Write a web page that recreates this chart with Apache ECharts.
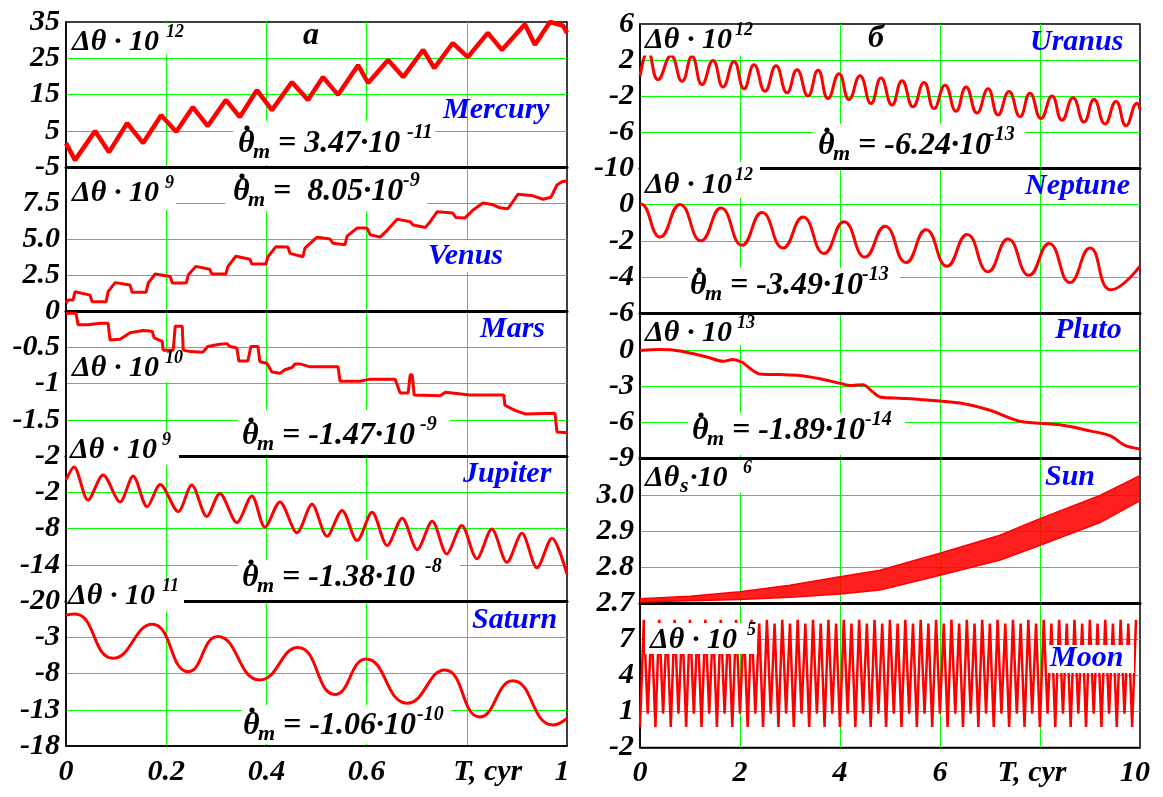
<!DOCTYPE html>
<html><head><meta charset="utf-8">
<script src="https://cdn.jsdelivr.net/npm/echarts@6/dist/echarts.min.js"></script>
<style>html,body{margin:0;padding:0;background:#fff}#c{width:1163px;height:797px}</style>
</head><body><div id="c"></div>
<script>
// ---------------- DATA ----------------
const leftXTicks = ['0','0.2','0.4','0.6','T, cyr','1'];
const rightXTicks = ['0','2','4','6','T, cyr','10'];

const mercuryTicks = ['-5','5','15','25','35'];
const venusTicks = ['0','2.5','5.0','7.5','10'];
const marsTicks = ['-2','-1.5','-1','-0.5','0'];
const jupiterTicks = ['-20','-14','-8','-2','4'];
const saturnTicks = ['-18','-13','-8','-3','2'];
const uranusTicks = ['-10','-6','-2','2','6'];
const neptuneTicks = ['-6','-4','-2','0','2'];
const plutoTicks = ['-9','-6','-3','0','3'];
const sunTicks = ['2.7','2.8','2.9','3.0','3.1'];
const moonTicks = ['-2','1','4','7','10'];

const mercury = [[0,1.6],[0.018,-3.1],[0.058,4.9],[0.086,-0.9],[0.122,7.1],[0.154,1.6],[0.190,9.3],[0.220,4.7],[0.253,11.5],[0.283,6.3],[0.319,13.5],[0.347,8.8],[0.381,16.2],[0.411,10.7],[0.451,18.4],[0.483,13.5],[0.513,19.8],[0.543,14.9],[0.583,23.1],[0.603,18.2],[0.643,24.5],[0.673,19.8],[0.713,27.3],[0.735,22.3],[0.772,29.2],[0.802,25.3],[0.842,32.0],[0.870,27.3],[0.916,34.4],[0.936,28.7],[0.966,35],[0.992,34],[1.0,32]];

const venus = [[0,0.55],[0.004,0.76],[0.014,0.76],[0.018,1.34],[0.048,1.1],[0.052,0.65],[0.080,0.65],[0.084,1.34],[0.098,1.97],[0.128,1.8],[0.132,1.3],[0.160,1.3],[0.164,1.94],[0.178,2.57],[0.208,2.4],[0.212,1.94],[0.240,1.94],[0.244,2.5],[0.259,3.1],[0.287,2.9],[0.291,2.57],[0.319,2.57],[0.323,3.08],[0.339,3.8],[0.367,3.6],[0.371,3.26],[0.399,3.26],[0.403,3.77],[0.419,4.47],[0.443,4.44],[0.447,4.0],[0.473,3.77],[0.477,4.37],[0.501,5.13],[0.527,5.0],[0.533,4.7],[0.557,4.6],[0.561,5.2],[0.581,5.76],[0.601,5.76],[0.607,5.3],[0.627,5.13],[0.641,5.6],[0.661,6.38],[0.687,6.2],[0.693,5.97],[0.717,5.8],[0.727,6.2],[0.741,6.9],[0.772,6.8],[0.778,6.5],[0.796,6.45],[0.812,7.0],[0.832,7.5],[0.850,7.4],[0.866,7.17],[0.882,7.1],[0.892,7.6],[0.902,8.1],[0.932,8.0],[0.952,7.76],[0.968,7.9],[0.980,8.75],[0.990,8.98],[1.0,9.05]];

const mars = [[0,-0.03],[0.020,-0.03],[0.024,-0.19],[0.044,-0.19],[0.068,-0.17],[0.084,-0.17],[0.088,-0.40],[0.108,-0.39],[0.128,-0.30],[0.154,-0.27],[0.172,-0.28],[0.176,-0.37],[0.192,-0.42],[0.194,-0.54],[0.214,-0.54],[0.218,-0.21],[0.232,-0.21],[0.234,-0.54],[0.248,-0.56],[0.273,-0.57],[0.283,-0.49],[0.307,-0.46],[0.321,-0.45],[0.327,-0.49],[0.341,-0.51],[0.345,-0.69],[0.363,-0.69],[0.369,-0.49],[0.383,-0.49],[0.387,-0.70],[0.401,-0.72],[0.411,-0.84],[0.427,-0.86],[0.437,-0.81],[0.451,-0.78],[0.457,-0.73],[0.467,-0.73],[0.487,-0.77],[0.543,-0.77],[0.547,-0.97],[0.587,-0.97],[0.607,-0.94],[0.657,-0.94],[0.667,-1.13],[0.683,-1.13],[0.687,-0.88],[0.691,-0.88],[0.695,-1.16],[0.747,-1.17],[0.757,-1.12],[0.806,-1.16],[0.874,-1.16],[0.876,-1.30],[0.896,-1.37],[0.916,-1.42],[0.976,-1.41],[0.980,-1.67],[1.0,-1.68]];

const jupiter = [[0,0.03],[0.016,2.2],[0.044,-3.3],[0.074,0.85],[0.108,-3.6],[0.134,0.7],[0.162,-4.4],[0.188,-0.7],[0.224,-5.2],[0.251,-0.8],[0.281,-6.0],[0.307,-2.2],[0.341,-7.0],[0.371,-2.6],[0.397,-7.8],[0.427,-3.6],[0.461,-8.7],[0.491,-4.0],[0.521,-9.3],[0.551,-5.0],[0.581,-10.0],[0.611,-5.3],[0.641,-10.8],[0.671,-6.3],[0.701,-11.5],[0.731,-6.8],[0.760,-12.2],[0.790,-7.5],[0.820,-13.0],[0.850,-8.1],[0.880,-13.6],[0.910,-8.8],[0.940,-14.5],[0.970,-9.6],[1.0,-15.6]];

const saturn = [[0,0.07],[0.018,0.2],[0.094,-5.9],[0.172,-1.2],[0.244,-7.75],[0.303,-2.9],[0.387,-8.9],[0.463,-4.4],[0.537,-10.9],[0.599,-6.0],[0.681,-12.1],[0.756,-7.5],[0.826,-14.0],[0.892,-9.0],[0.972,-15.1],[1.0,-14.2]];

const uranus = [[0,0.18],[0.16,2.94],[0.36,-0.18],[0.62,2.47],[0.84,-0.37],[1.04,2.4],[1.24,-0.73],[1.46,1.95],[1.66,-0.99],[1.88,1.84],[2.08,-1.2],[2.28,1.47],[2.5,-1.47],[2.72,1.36],[2.94,-1.65],[3.14,0.92],[3.36,-2.0],[3.56,0.85],[3.76,-2.28],[3.98,0.48],[4.18,-2.39],[4.4,0.26],[4.62,-2.83],[4.82,0.0],[5.04,-3.0],[5.24,-0.3],[5.46,-3.2],[5.68,-0.5],[5.88,-3.4],[6.1,-0.8],[6.32,-3.7],[6.52,-1.0],[6.74,-3.9],[6.96,-1.2],[7.16,-4.1],[7.38,-1.5],[7.6,-4.3],[7.8,-1.7],[8.02,-4.5],[8.24,-2.0],[8.44,-4.7],[8.66,-2.2],[8.88,-4.9],[9.08,-2.4],[9.3,-5.1],[9.52,-2.6],[9.72,-5.3],[9.94,-2.8],[10,-3.5]];

const neptune = [[0,0.0],[0.02,0.02],[0.4,-1.8],[0.8,0.0],[1.22,-2.0],[1.62,-0.2],[2.04,-2.25],[2.44,-0.45],[2.86,-2.4],[3.26,-0.7],[3.68,-2.7],[4.08,-0.95],[4.5,-2.9],[4.9,-1.2],[5.32,-3.2],[5.72,-1.4],[6.14,-3.4],[6.54,-1.65],[6.96,-3.7],[7.36,-1.9],[7.78,-3.9],[8.18,-2.15],[8.6,-4.3],[9.0,-2.4],[9.42,-4.7],[10,-3.4]];

const pluto = [[0,-0.06],[0.4,0.02],[0.8,-0.1],[1.34,-0.6],[1.66,-0.95],[1.86,-0.8],[2.04,-1.03],[2.4,-2.0],[2.8,-2.05],[3.2,-2.13],[3.6,-2.4],[4.0,-2.77],[4.24,-2.96],[4.46,-2.88],[4.66,-3.5],[4.8,-3.9],[5.2,-4.0],[5.6,-4.1],[6.4,-4.4],[7.0,-5.0],[7.6,-5.9],[8.4,-6.2],[9.0,-6.7],[9.4,-7.1],[9.7,-7.9],[10,-8.2]];

const sunT = [0,1,2,3,4,4.8,6,7.2,8,9.2,10];
const sunLow = [2.703,2.706,2.710,2.716,2.725,2.736,2.777,2.819,2.860,2.923,2.984];
const sunHigh = [2.712,2.719,2.731,2.749,2.773,2.791,2.838,2.888,2.934,2.998,3.053];

const moonHalfStep = 0.0769;
const moonTroughs = [-0.3,0.8,-0.3,0.8,-0.3,0.8,-0.3,0.8,-0.3,0.8,-0.3,0.8,-0.3,0.8,-0.3,0.8,-0.3,0.8,-0.3,0.8,-0.3,0.8,-0.3,0.8,-0.3,0.8,-0.3,0.8,-0.3,0.8,-0.3,0.8,-0.3,0.8,-0.3,0.8,-0.3,0.8,-0.3,0.8,-0.3,0.8,-0.3,0.8,-0.3,0.8,-0.3,0.8,-0.3,0.8,-0.3,0.8,-0.3,0.8,-0.3,0.8,-0.3,0.8,-0.3,0.8,-0.3,0.8,-0.3,0.8,-0.3];
const moonPeaks = [8.6,8.3,8.6,8.3,8.6,8.3,8.6,8.3,8.6,8.3,8.6,8.3,8.6,8.3,8.6,8.3,8.6,8.3,8.6,8.3,8.6,8.3,8.6,8.3,8.6,8.3,8.6,8.3,8.6,8.3,8.6,8.3,8.6,8.3,8.6,8.3,8.6,8.3,8.6,8.3,8.6,8.3,8.6,8.3,8.6,8.3,8.6,8.3,8.6,8.3,8.6,8.3,8.6,8.3,8.6,8.3,8.6,8.3,8.6,8.3,8.6,8.3,8.6,8.3,8.6];

// ---------------- BUILD ----------------
const moon = [];
for (let i = 0; i < moonTroughs.length; i++) {
  moon.push([2 * i * moonHalfStep, moonTroughs[i]]);
  if (i < moonPeaks.length) moon.push([(2 * i + 1) * moonHalfStep, moonPeaks[i]]);
}

const FONT = 'Liberation Serif';
const panels = [
  {side:'L', top:22, h:145, min:-5, max:35, iv:10, ticks:mercuryTicks, showMax:true, data:mercury, w:4.5},
  {side:'L', top:167, h:144, min:0, max:10, iv:2.5, ticks:venusTicks, data:venus, w:3},
  {side:'L', top:311, h:145, min:-2, max:0, iv:0.5, ticks:marsTicks, data:mars, w:3},
  {side:'L', top:456, h:145, min:-20, max:4, iv:6, ticks:jupiterTicks, data:jupiter, w:3, smooth:0.3},
  {side:'L', top:601, h:145, min:-18, max:2, iv:5, ticks:saturnTicks, data:saturn, w:3, smooth:0.5, last:true},
  {side:'R', top:24, h:144, min:-10, max:6, iv:4, ticks:uranusTicks, showMax:true, data:uranus, w:3, smooth:0.5},
  {side:'R', top:168, h:145.5, min:-6, max:2, iv:2, ticks:neptuneTicks, data:neptune, w:3, smooth:0.5},
  {side:'R', top:313.5, h:145.2, min:-9, max:3, iv:3, ticks:plutoTicks, data:pluto, w:3, smooth:0.3},
  {side:'R', top:458.7, h:144.3, min:2.7, max:3.1, iv:0.1, ticks:sunTicks, sun:true},
  {side:'R', top:603, h:144.5, min:-2, max:10, iv:3, ticks:moonTicks, data:moon, w:2.5, last:true}
];

const grids = [], xAxes = [], yAxes = [], series = [];
const labFont = {fontFamily: FONT, fontStyle: 'italic', fontWeight: 'bold', fontSize: 30, color: '#000'};
panels.forEach((p, i) => {
  const L = p.side === 'L';
  grids.push({left: L ? 66 : 640, width: L ? 501 : 500, top: p.top, height: p.h,
    show: true, borderColor: '#000', borderWidth: 1.5, backgroundColor: 'transparent'});
  const xt = L ? leftXTicks : rightXTicks;
  const xmax = L ? 1 : 10, xiv = L ? 0.2 : 2;
  xAxes.push({gridIndex: i, type: 'value', min: 0, max: xmax, interval: xiv,
    axisLine: {show: true, onZero: false, lineStyle: {color: '#000', width: p.last ? 1.5 : 3}},
    axisTick: {show: false},
    splitLine: {show: true, showMinLine: false, showMaxLine: false, lineStyle: {color: '#00ff00', width: 1}},
    axisLabel: Object.assign({show: !!p.last, margin: 11,
      formatter: v => {
        const k = Math.round(v / xiv), s = xt[k];
        if (k === 4) return (L ? '{tl|' : '{tr|') + s + '}';
        if (k === 5) return '{e|' + s + '}';
        return s;
      },
      rich: {
        tl: Object.assign({padding: [0, 0, 0, 42]}, labFont),
        tr: Object.assign({padding: [0, 16, 0, 0]}, labFont),
        e: Object.assign({padding: [0, 10, 0, 0]}, labFont)
      }}, labFont)
  });
  yAxes.push({gridIndex: i, type: 'value', min: p.min, max: p.max, interval: p.iv,
    axisLine: {show: true, lineStyle: {color: '#000', width: 1.5}},
    axisTick: {show: false},
    splitLine: {show: true, showMinLine: false, showMaxLine: false, lineStyle: {color: '#00ff00', width: 1}},
    axisLabel: Object.assign({show: true, showMaxLabel: !!p.showMax, showMinLabel: true, margin: 6,
      formatter: v => p.ticks[Math.round((v - p.min) / p.iv)]}, labFont)
  });
  if (p.sun) {
    series.push({type: 'custom', xAxisIndex: i, yAxisIndex: i, silent: true, clip: true,
      data: sunT.map((t, k) => [t, sunLow[k], sunHigh[k]]),
      encode: {x: 0, y: [1, 2]},
      renderItem: (params, api) => {
        if (params.dataIndex !== 0) return null;
        const up = sunT.map((t, k) => api.coord([t, sunHigh[k]]));
        const lo = sunT.map((t, k) => api.coord([t, sunLow[k]])).reverse();
        return {type: 'polygon', shape: {points: up.concat(lo)},
          style: {fill: 'rgba(255,0,0,0.88)', stroke: '#ff0000', lineWidth: 1.5}};
      }});
  } else {
    series.push({type: 'line', xAxisIndex: i, yAxisIndex: i, data: p.data, showSymbol: false,
      smooth: p.smooth || false, lineStyle: {color: '#ff0000', width: p.w}, silent: true, clip: true});
  }
});

// ---------------- LABELS ----------------
const BLUE = '#0000ff';
const F = s => `italic bold ${s}px "${FONT}"`;
const els = [];
function T(x, b, s, size, color) {
  els.push({type: 'text', z: 100, x: x, y: b - 0.34 * size,
    style: {text: s, font: F(size), fill: color || '#000', align: 'left', verticalAlign: 'middle'}});
}
function R(x, y, w, h) {
  els.push({type: 'rect', z: 99, shape: {x: x, y: y, width: w, height: h}, style: {fill: '#fff'}});
}
function dTheta(x, b, sup, supX) {
  T(x, b, 'Δθ · 10', 30); T(supX, b - 14, sup, 18);
}
function thetaM(x0, b, rest, sup, supX) {
  T(x0, b, 'θ', 32);
  els.push({type: 'circle', z: 101, shape: {cx: x0 + 9, cy: b - 27, r: 2.6}, style: {fill: '#000'}});
  T(x0 + 15, b + 5, 'm', 22);
  T(x0 + 40, b, rest, 32);
  T(supX, b - 15, sup, 20);
}
// Mercury
R(67, 23.5, 115, 31); dTheta(72, 52, '12', 166);
T(303, 47, 'а', 32);
T(443, 120, 'Mercury', 30, BLUE);
R(233, 121, 202, 44); thetaM(238, 155, '= 3.47·10', '-11', 407);
// Venus
R(67, 169, 109, 41); dTheta(72, 203, '9', 165);
R(225, 169, 202, 42); thetaM(233, 203, '=  8.05·10', '-9', 403);
R(427, 240, 80, 32); T(428, 266, 'Venus', 30, BLUE);
// Mars
T(480, 339, 'Mars', 30, BLUE);
R(67, 352, 115, 30); dTheta(72, 378, '10', 165);
R(238, 410, 212, 44); thetaM(242, 447, '= -1.47·10', '-9', 420);
// Jupiter
R(67, 432, 112, 33); dTheta(70, 460, '9', 162);
T(463, 484, 'Jupiter', 30, BLUE);
R(238, 560, 222, 40); thetaM(242, 589, '= -1.38·10', '-8', 425);
// Saturn
R(67, 583, 117, 29); dTheta(68, 606, '11', 162);
T(472, 630, 'Saturn', 30, BLUE);
R(242, 705, 209, 39); thetaM(243, 737, '= -1.06·10', '-10', 417);
// Uranus
R(641, 25.5, 119, 30); dTheta(645, 50, '12', 735);
T(868, 50, 'б', 32);
T(1030, 52, 'Uranus', 30, BLUE);
R(813, 124, 212, 43); thetaM(818, 157, '= -6.24·10', '-13', 988);
// Neptune
R(641, 162, 119, 36); dTheta(645, 195, '12', 735);
T(1025, 196, 'Neptune', 30, BLUE);
R(688, 268, 212, 44); thetaM(690, 297, '= -3.49·10', '-13', 862);
// Pluto
R(641, 315, 119, 30); dTheta(645, 343, '13', 737);
T(1055, 340, 'Pluto', 30, BLUE);
R(688, 413, 217, 42); thetaM(692, 442, '= -1.89·10', '-14', 865);
// Sun
R(641, 460.5, 116, 32);
T(645, 488, 'Δθ', 30); T(680, 494, 's', 22); T(690, 488, '·10', 30); T(743, 474, '6', 18);
T(1045, 487, 'Sun', 30, BLUE);
// Moon
R(645, 623, 112, 31); dTheta(650, 650, '5', 747);
R(1048, 645, 86, 28); T(1050, 668, 'Moon', 30, BLUE);

const chart = echarts.init(document.getElementById('c'), null, {renderer: 'canvas'});
chart.setOption({
  animation: false,
  backgroundColor: '#fff',
  grid: grids, xAxis: xAxes, yAxis: yAxes, series: series,
  graphic: {elements: els}
});
</script>
</body></html>
